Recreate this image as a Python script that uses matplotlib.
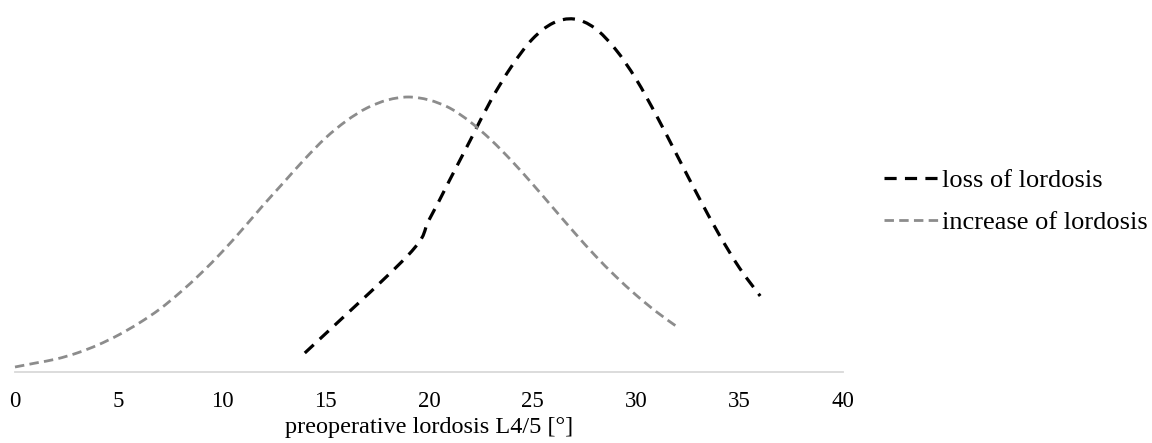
import matplotlib
matplotlib.use("Agg")
import matplotlib.pyplot as plt
from matplotlib.path import Path
from matplotlib.patches import PathPatch
from matplotlib.lines import Line2D

# Data (relative frequency, arbitrary units)
loss_x = [14, 19, 20, 21, 22, 23, 24, 25, 26, 27, 28, 29, 30, 31, 32, 33, 34, 35, 36]
loss_y = [19, 117, 152, 192, 232, 272, 306, 333, 349, 353, 344, 323, 293, 256, 216, 176, 138, 104, 76]

inc_x = list(range(0, 33))
inc_y = [5, 9, 13, 19, 27, 37, 49, 63, 80, 99, 120, 143, 167, 190, 213, 234, 251, 264, 272, 275,
         272, 264, 250, 232, 211, 188, 164, 140, 117, 96, 77, 60, 45]

xticks = [0, 5, 10, 15, 20, 25, 30, 35, 40]
xlabel = "preoperative lordosis L4/5 [°]"
labels = ["loss of lordosis", "increase of lordosis"]

plt.rcParams['font.family'] = ['Liberation Serif', 'DejaVu Serif']


def smooth_path(xs, ys):
    """Excel-like smoothed line: Catmull-Rom spline as cubic Bezier segments."""
    pts = list(zip(xs, ys))
    n = len(pts)
    verts = [pts[0]]
    codes = [Path.MOVETO]
    for i in range(n - 1):
        p0 = pts[i - 1] if i > 0 else pts[i]
        p1 = pts[i]
        p2 = pts[i + 1]
        p3 = pts[i + 2] if i + 2 < n else pts[i + 1]
        c1 = (p1[0] + (p2[0] - p0[0]) / 6, p1[1] + (p2[1] - p0[1]) / 6)
        c2 = (p2[0] - (p3[0] - p1[0]) / 6, p2[1] - (p3[1] - p1[1]) / 6)
        verts += [c1, c2, p2]
        codes += [Path.CURVE4] * 3
    return Path(verts, codes)


W, H = 1152, 443
fig = plt.figure(figsize=(W / 100, H / 100), dpi=100)
ax = fig.add_axes([15 / W, (H - 372) / H, 828 / W, 365 / H])

loss_style = dict(color='black', lw=2.3, linestyle=(0, (3.8, 2.6)), dash_capstyle='butt')
inc_style = dict(color='#8c8c8c', lw=2.0, linestyle=(0, (3.4, 1.9)), dash_capstyle='butt')

ax.add_patch(PathPatch(smooth_path(loss_x, loss_y), fill=False, edgecolor=loss_style['color'],
                       lw=loss_style['lw'], linestyle=loss_style['linestyle'],
                       capstyle='butt', clip_on=False))
ax.add_patch(PathPatch(smooth_path(inc_x, inc_y), fill=False, edgecolor=inc_style['color'],
                       lw=inc_style['lw'], linestyle=inc_style['linestyle'],
                       capstyle='butt', clip_on=False))

ax.set_xlim(0, 40)
ax.set_ylim(0, 365)
ax.set_xticks(xticks)
ax.set_xticklabels([str(t) for t in xticks], fontsize=16.5)
ax.tick_params(axis='x', length=0, pad=14)
ax.set_yticks([])
for s in ['top', 'right', 'left']:
    ax.spines[s].set_visible(False)
ax.spines['bottom'].set_color('#d9d9d9')
ax.spines['bottom'].set_linewidth(1.3)
ax.set_xlabel(xlabel, fontsize=17.5, labelpad=3)

handles = [Line2D([], [], **loss_style), Line2D([], [], **inc_style)]
leg = fig.legend(handles, labels, loc='upper left', bbox_to_anchor=(884 / W, 1 - 169 / H),
                 frameon=False, fontsize=19, handlelength=2.1, handletextpad=0.1,
                 labelspacing=0.68, borderaxespad=0, borderpad=0)

fig.savefig("out.png", dpi=100, facecolor='white')
